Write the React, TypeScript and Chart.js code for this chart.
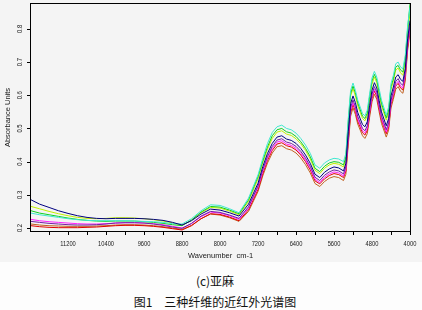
import React, { useEffect, useRef } from "react";
import { Chart, registerables } from "chart.js";

Chart.register(...registerables);

const wavenumbers = [11980,11800,11600,11400,11200,11000,10800,10600,10400,10200,10000,9800,9600,9400,9200,9000,8800,8600,8400,8200,8000,7800,7600,7400,7200,7100,7000,6900,6800,6700,6600,6500,6400,6300,6200,6100,6000,5900,5800,5700,5600,5500,5400,5350,5300,5250,5200,5150,5100,5000,4950,4900,4850,4800,4750,4700,4650,4600,4500,4450,4400,4350,4300,4250,4200,4150,4100,4050,4000];

const navy = [.285,.272,.262,.252,.244,.237,.232,.229,.228,.229,.229,.229,.228,.226,.223,.217,.209,.222,.242,.257,.254,.246,.236,.272,.335,.385,.425,.455,.474,.478,.468,.464,.455,.44,.42,.395,.362,.352,.368,.378,.384,.381,.372,.395,.49,.575,.598,.578,.548,.512,.505,.52,.57,.615,.638,.622,.585,.55,.508,.53,.598,.625,.655,.662,.648,.642,.68,.77,.825];
const cyan = [.245,.24,.236,.232,.228,.225,.223,.222,.222,.222,.222,.221,.22,.219,.217,.213,.212,.228,.252,.27,.268,.258,.246,.29,.36,.41,.455,.488,.505,.51,.5,.496,.486,.47,.45,.425,.39,.38,.396,.405,.41,.408,.4,.425,.53,.615,.637,.615,.585,.545,.538,.555,.605,.652,.672,.655,.62,.585,.54,.565,.635,.66,.695,.7,.685,.68,.72,.81,.865];
const green = [.252,.245,.24,.235,.23,.226,.223,.221,.22,.221,.221,.221,.219,.217,.214,.21,.207,.224,.248,.265,.263,.254,.243,.285,.355,.402,.445,.478,.496,.5,.49,.486,.476,.46,.44,.415,.38,.37,.386,.396,.4,.398,.39,.415,.52,.605,.628,.607,.577,.537,.53,.546,.596,.643,.663,.646,.61,.576,.532,.556,.626,.65,.685,.69,.676,.67,.71,.8,.875];
const lime = [.265,.258,.25,.243,.237,.232,.229,.228,.229,.231,.231,.23,.228,.225,.221,.215,.208,.224,.246,.262,.26,.251,.24,.28,.348,.397,.438,.47,.489,.493,.483,.479,.469,.454,.434,.408,.374,.364,.38,.39,.395,.392,.384,.41,.51,.598,.62,.598,.568,.53,.523,.538,.588,.633,.655,.638,.602,.568,.525,.548,.618,.643,.676,.682,.668,.66,.7,.79,.845];
const purple = [.22,.217,.214,.212,.21,.209,.209,.21,.212,.215,.216,.216,.215,.212,.208,.203,.199,.214,.236,.25,.247,.239,.229,.264,.327,.376,.416,.446,.465,.469,.459,.455,.446,.431,.411,.386,.353,.343,.359,.369,.375,.372,.363,.385,.478,.563,.586,.566,.536,.5,.493,.508,.558,.603,.626,.61,.573,.538,.496,.518,.585,.612,.642,.65,.636,.63,.668,.76,.81];
const magenta = [.226,.222,.219,.217,.215,.213,.212,.212,.213,.215,.216,.216,.215,.213,.21,.205,.2,.213,.234,.248,.245,.237,.226,.26,.322,.37,.41,.44,.459,.463,.453,.449,.44,.425,.405,.38,.347,.337,.353,.363,.369,.366,.357,.378,.47,.555,.578,.558,.528,.493,.486,.5,.55,.595,.618,.602,.565,.53,.489,.51,.577,.604,.634,.642,.628,.622,.66,.75,.805];
const red = [.207,.204,.202,.201,.201,.201,.202,.203,.205,.207,.208,.208,.207,.205,.202,.198,.194,.207,.228,.243,.241,.233,.222,.255,.316,.364,.404,.434,.453,.457,.448,.444,.435,.42,.4,.375,.342,.333,.348,.358,.364,.361,.352,.372,.462,.548,.572,.552,.522,.487,.48,.494,.544,.59,.613,.597,.56,.525,.484,.505,.572,.598,.628,.636,.622,.616,.654,.745,.8];
const brown = [.212,.209,.207,.206,.205,.205,.205,.206,.207,.209,.21,.21,.209,.207,.204,.2,.196,.208,.228,.242,.239,.231,.22,.25,.31,.357,.396,.426,.445,.448,.439,.435,.426,.411,.391,.366,.334,.325,.34,.35,.355,.352,.343,.362,.45,.537,.562,.542,.513,.478,.47,.484,.534,.58,.603,.588,.55,.515,.474,.495,.562,.588,.618,.626,.612,.606,.643,.735,.79];

const seriesList = [
  { name: "navy", values: navy, color: "#000080" },
  { name: "cyan", values: cyan, color: "#40e8d0" },
  { name: "green", values: green, color: "#10d020" },
  { name: "lime", values: lime, color: "#c0f000" },
  { name: "purple", values: purple, color: "#7020a0" },
  { name: "magenta", values: magenta, color: "#ff20ff" },
  { name: "red", values: red, color: "#e00000" },
  { name: "brown", values: brown, color: "#c06020" },
];

const xTickValues = [4000,4400,4800,5200,5600,6000,6400,6800,7200,7600,8000,8400,8800,9200,9600,10000,10400,10800,11200,11600];
const xLabelValues = [4000,4800,5600,6400,7200,8000,8800,9600,10400,11200];
const yTickValues = [0.2,0.3,0.4,0.5,0.6,0.7,0.8];
const yLabels = ["0.2","0.3","0.4","0.5","0.6","0.7","0.8"];
const xTitle = "Wavenumber  cm-1";
const yTitle = "Absorbance Units";
const caption1 = "(c)亚麻";
const caption2 = "图1　三种纤维的近红外光谱图";

const axisPlugin = {
  id: "axisPlugin",
  afterDraw(chart: any) {
    const { ctx, chartArea, scales } = chart;
    const { left, right, top, bottom } = chartArea;
    const xs = scales.x;
    const ys = scales.y;
    ctx.save();
    ctx.strokeStyle = "#000";
    ctx.lineWidth = 1;
    ctx.strokeRect(left - 0.5, top - 0.5, right - left + 1, bottom - top + 1);
    ctx.beginPath();
    for (const v of xTickValues) {
      const px = Math.round(xs.getPixelForValue(v)) + 0.5;
      ctx.moveTo(px, bottom);
      ctx.lineTo(px, bottom + 4);
    }
    for (const v of yTickValues) {
      const py = Math.round(ys.getPixelForValue(v)) + 0.5;
      ctx.moveTo(left - 4, py);
      ctx.lineTo(left, py);
    }
    ctx.stroke();
    ctx.fillStyle = "#1a1a1a";
    ctx.font = '7px "Liberation Sans", Arial, sans-serif';
    ctx.textAlign = "center";
    ctx.textBaseline = "middle";
    for (const v of xLabelValues) {
      const px = xs.getPixelForValue(v);
      ctx.save();
      ctx.translate(px, bottom + 13);
      ctx.scale(0.82, 1);
      ctx.fillText(String(v), 0, 0);
      ctx.restore();
    }
    ctx.font = '7.5px "Liberation Sans", Arial, sans-serif';
    yTickValues.forEach((v, i) => {
      const py = ys.getPixelForValue(v);
      ctx.save();
      ctx.translate(20, py);
      ctx.rotate(-Math.PI / 2);
      ctx.scale(0.78, 1);
      ctx.fillText(yLabels[i], 0, 0);
      ctx.restore();
    });
    ctx.font = '7.5px "Liberation Sans", Arial, sans-serif';
    ctx.fillText(xTitle, (left + right) / 2, bottom + 25);
    ctx.save();
    ctx.translate(8, (top + bottom) / 2);
    ctx.rotate(-Math.PI / 2);
    ctx.fillText(yTitle, 0, 0);
    ctx.restore();
    ctx.restore();
  },
};

export default function App() {
  const canvasRef = useRef<HTMLCanvasElement | null>(null);
  useEffect(() => {
    document.body.style.margin = "0";
    const canvas = canvasRef.current;
    if (!canvas) return;
    const chart = new Chart(canvas, {
      type: "line",
      data: {
        datasets: seriesList.map((s) => ({
          label: s.name,
          data: wavenumbers.map((w, i) => ({ x: w, y: s.values[i] })),
          borderColor: s.color,
          borderWidth: 1,
          pointRadius: 0,
          tension: 0,
          fill: false,
        })),
      },
      options: {
        responsive: false,
        animation: false,
        devicePixelRatio: 1,
        layout: { padding: { left: 31, right: 12, top: 4, bottom: 31 } },
        plugins: { legend: { display: false }, tooltip: { enabled: false }, title: { display: false } },
        scales: {
          x: { type: "linear", display: false, reverse: true, min: 4000, max: 11980 },
          y: { type: "linear", display: false, min: 0.191, max: 0.875 },
        },
      },
      plugins: [axisPlugin],
    });
    return () => chart.destroy();
  }, []);

  const capStyle: React.CSSProperties = {
    position: "absolute",
    left: 0,
    width: 430,
    textAlign: "center",
    fontFamily: '"Noto Sans CJK SC", sans-serif',
    fontSize: 12,
    lineHeight: "14px",
    color: "#111",
    whiteSpace: "pre",
  };

  return (
    <div style={{ position: "absolute", left: 0, top: 0, width: 422, height: 310, background: "#fdfdfd", overflow: "hidden" }}>
      <div style={{ position: "absolute", left: 0, top: 0, width: 422, height: 262, background: "#f4f4f4" }}>
        <canvas ref={canvasRef} width={422} height={262} style={{ display: "block" }} />
      </div>
      <div style={{ ...capStyle, top: 274 }}>{caption1}</div>
      <div style={{ ...capStyle, top: 295 }}>{caption2}</div>
    </div>
  );
}
